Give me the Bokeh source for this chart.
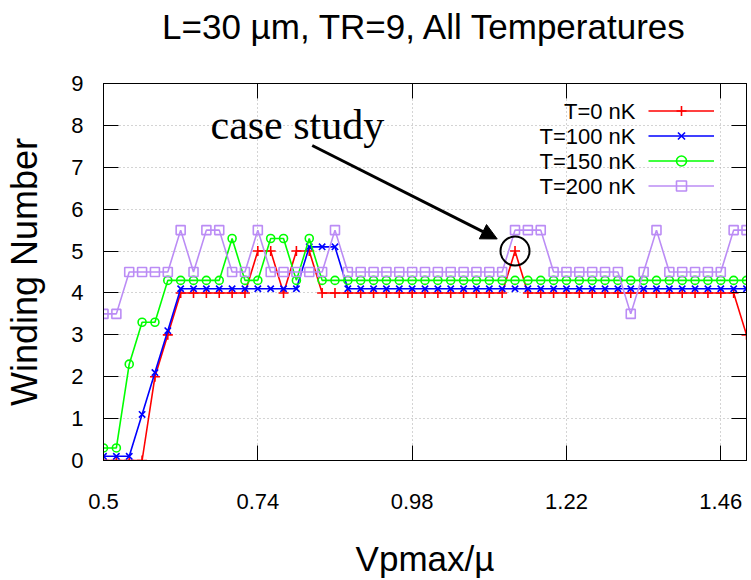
from bokeh.plotting import figure
from bokeh.models import (Range1d, FixedTicker, LinearAxis, Legend, LegendItem,
                          Label, Arrow, NormalHead)
from bokeh.core.properties import value
from bokeh.embed import file_html
from bokeh.resources import INLINE

# ---------------- data ----------------
vpmax = [0.50, 0.52, 0.54, 0.56, 0.58, 0.60, 0.62, 0.64, 0.66, 0.68,
         0.70, 0.72, 0.74, 0.76, 0.78, 0.80, 0.82, 0.84, 0.86, 0.88,
         0.90, 0.92, 0.94, 0.96, 0.98, 1.00, 1.02, 1.04, 1.06, 1.08,
         1.10, 1.12, 1.14, 1.16, 1.18, 1.20, 1.22, 1.24, 1.26, 1.28,
         1.30, 1.32, 1.34, 1.36, 1.38, 1.40, 1.42, 1.44, 1.46, 1.48, 1.50]

t0 = [0, 0, 0, 0, 2, 3, 4, 4, 4, 4,
      4, 4, 5, 5, 4, 5, 5, 4, 4, 4,
      4, 4, 4, 4, 4, 4, 4, 4, 4, 4,
      4, 4, 5, 4, 4, 4, 4, 4, 4, 4,
      4, 4, 4, 4, 4, 4, 4, 4, 4, 4, 3]

t100 = [0.1, 0.1, 0.1, 1.1, 2.1, 3.1, 4.1, 4.1, 4.1, 4.1,
        4.1, 4.1, 4.1, 4.1, 4.1, 4.1, 5.1, 5.1, 5.1, 4.1,
        4.1, 4.1, 4.1, 4.1, 4.1, 4.1, 4.1, 4.1, 4.1, 4.1,
        4.1, 4.1, 4.1, 4.1, 4.1, 4.1, 4.1, 4.1, 4.1, 4.1,
        4.1, 4.1, 4.1, 4.1, 4.1, 4.1, 4.1, 4.1, 4.1, 4.1, 4.1]

t150 = [0.3, 0.3, 2.3, 3.3, 3.3, 4.3, 4.3, 4.3, 4.3, 4.3,
        5.3, 4.3, 4.3, 5.3, 5.3, 4.3, 5.3, 4.3, 4.3, 4.3,
        4.3, 4.3, 4.3, 4.3, 4.3, 4.3, 4.3, 4.3, 4.3, 4.3,
        4.3, 4.3, 4.3, 4.3, 4.3, 4.3, 4.3, 4.3, 4.3, 4.3,
        4.3, 4.3, 4.3, 4.3, 4.3, 4.3, 4.3, 4.3, 4.3, 4.3, 4.3]

t200 = [3.5, 3.5, 4.5, 4.5, 4.5, 4.5, 5.5, 4.5, 5.5, 5.5,
        4.5, 4.5, 5.5, 4.5, 4.5, 4.5, 4.5, 4.5, 5.5, 4.5,
        4.5, 4.5, 4.5, 4.5, 4.5, 4.5, 4.5, 4.5, 4.5, 4.5,
        4.5, 4.5, 5.5, 5.5, 5.5, 4.5, 4.5, 4.5, 4.5, 4.5,
        4.5, 3.5, 4.5, 5.5, 4.5, 4.5, 4.5, 4.5, 4.5, 5.5, 5.5]

series_labels = ["T=0 nK", "T=100 nK", "T=150 nK", "T=200 nK"]
series_colors = ["#ff0000", "#0000ff", "#00ff00", "#bb8cf5"]
series_markers = ["cross", "x", "circle", "square"]
series_sizes = [10, 9, 8, 9]

xticks = [0.5, 0.74, 0.98, 1.22, 1.46]
xtick_labels = ["0.5", "0.74", "0.98", "1.22", "1.46"]
yticks = [0, 1, 2, 3, 4, 5, 6, 7, 8, 9]

title_text = "L=30 µm, TR=9, All Temperatures"
case_index = 32  # highlighted "case study" point

FONT = "Liberation Sans"

# ---------------- figure ----------------
p = figure(width=751, height=580,
           x_range=Range1d(0.5, 1.5), y_range=Range1d(0, 9),
           output_backend="svg", toolbar_location=None,
           min_border_left=103, min_border_right=5,
           min_border_top=83, min_border_bottom=120,
           background_fill_color="white", border_fill_color="white")
p.title = None

p.outline_line_color = "black"
p.outline_line_width = 1

# axes
for ax in (p.xaxis[0], p.yaxis[0]):
    ax.major_tick_in = 15
    ax.major_tick_out = 0
    ax.minor_tick_in = 0
    ax.minor_tick_out = 0
    ax.major_tick_line_color = "black"
    ax.axis_line_color = "black"
    ax.major_label_text_font = FONT
    ax.major_label_text_font_size = "22px"
    ax.major_label_text_color = "black"
    ax.axis_label_text_font = FONT
    ax.axis_label_text_font_style = "normal"
    ax.axis_label_text_color = "black"

p.xaxis.ticker = FixedTicker(ticks=xticks)
p.xaxis.major_label_overrides = dict(zip(xticks, xtick_labels))
p.xaxis.major_label_standoff = 33
p.xaxis.axis_label = "Vpmax/µ"
p.xaxis.axis_label_text_font_size = "35px"
p.xaxis.axis_label_standoff = 27

p.yaxis.ticker = FixedTicker(ticks=yticks)
p.yaxis.major_label_standoff = 20
p.yaxis.axis_label = "Winding Number"
p.yaxis.axis_label_text_font_size = "36px"
p.yaxis.axis_label_standoff = 23

# mirror ticks on right and top (labels left empty); the top axis carries the title
right_ax = LinearAxis(ticker=FixedTicker(ticks=yticks),
                      major_label_overrides={t: "" for t in yticks},
                      major_label_text_font_size="1px",
                      major_label_standoff=0,
                      major_tick_in=15, major_tick_out=0,
                      minor_tick_in=0, minor_tick_out=0,
                      major_tick_line_color="black",
                      axis_line_color="black")
p.add_layout(right_ax, "right")

top_ax = LinearAxis(ticker=FixedTicker(ticks=xticks),
                    major_label_overrides={t: "" for t in xticks},
                    major_label_text_font_size="1px",
                    major_label_standoff=0,
                    major_tick_in=15, major_tick_out=0,
                    minor_tick_in=0, minor_tick_out=0,
                    major_tick_line_color="black",
                    axis_line_color="black",
                    axis_label=title_text,
                    axis_label_text_font=FONT,
                    axis_label_text_font_size="35px",
                    axis_label_text_font_style="normal",
                    axis_label_text_color="black",
                    axis_label_standoff=38)
p.add_layout(top_ax, "above")

# grid
p.xgrid.ticker = FixedTicker(ticks=xticks)
p.ygrid.ticker = FixedTicker(ticks=yticks)
for g in (p.xgrid[0], p.ygrid[0]):
    g.grid_line_color = "#a8a8a8"
    g.grid_line_dash = "1 3"
    g.grid_line_width = 1

# series
legend_items = []
for ys, color, marker, size in zip([t0, t100, t150, t200], series_colors,
                                    series_markers, series_sizes):
    ln = p.line(vpmax, ys, line_color=color, line_width=1.6)
    sc = p.scatter(vpmax, ys, marker=marker, size=size, line_color=color,
                   fill_color=None, line_width=1.6)
    legend_items.append(LegendItem(label=value(""), renderers=[ln, sc]))

# highlight circle around case-study point
p.scatter([vpmax[case_index]], [t0[case_index]], marker="circle", size=29,
          fill_color=None, line_color="black", line_width=2)

# legend (samples) + texts to their left
legend = Legend(items=legend_items, location=(545, 262), orientation="vertical",
                glyph_width=66, glyph_height=25, label_width=0, label_height=0,
                label_standoff=0, spacing=0, padding=0, margin=0,
                border_line_color=None, background_fill_alpha=0,
                label_text_font_size="1px")
p.add_layout(legend)

row_y = [349.3, 324, 299, 274]
for lab, yy in zip(series_labels, row_y):
    p.add_layout(Label(x=532, y=yy, x_units="screen", y_units="screen",
                       text=lab, text_align="right", text_baseline="middle",
                       text_font=FONT, text_font_size="22px",
                       text_color="black"))

# annotation
p.add_layout(Label(x=0.6664, y=8.0, text="case study",
                   text_font="Liberation Serif", text_font_size="42px",
                   text_baseline="alphabetic", text_color="black"))
p.add_layout(Arrow(end=NormalHead(size=16, fill_color="black", line_color="black"),
                   x_start=0.8246, y_start=7.52, x_end=1.1123, y_end=5.29,
                   line_width=3, line_color="black"))

open("out.html", "w").write(file_html(p, INLINE))
